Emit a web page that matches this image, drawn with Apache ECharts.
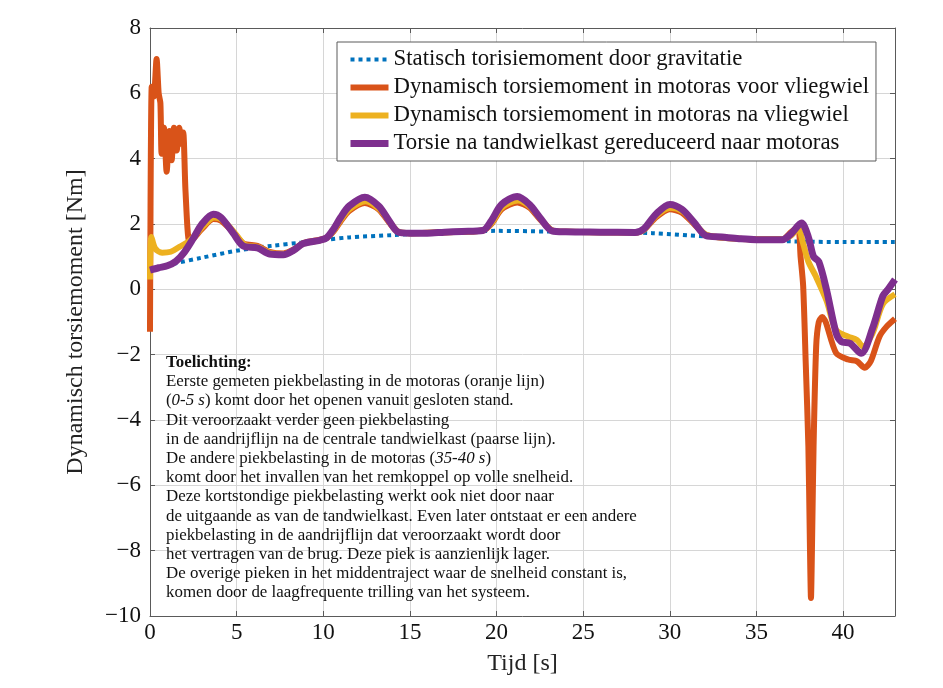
<!DOCTYPE html>
<html>
<head>
<meta charset="utf-8">
<title>Dynamisch torsiemoment</title>
<script src="https://cdn.jsdelivr.net/npm/echarts@6/dist/echarts.min.js"></script>
<style>
  html, body { margin: 0; padding: 0; background: #fff; }
  #chart { width: 943px; height: 688px; }
</style>
</head>
<body>
<div id="chart"></div>
<script>
// legend names, same order as the series
var seriesNames = [
  "Statisch torisiemoment door gravitatie",
  "Dynamisch torsiemoment in motoras voor vliegwiel",
  "Dynamisch torsiemoment in motoras na vliegwiel",
  "Torsie na tandwielkast gereduceerd naar motoras"
];

// statisch moment (blauw, gestippeld)
var staticTime   = [0, 1.5, 3, 5.2, 7, 8.7, 10, 11.5, 14, 17, 20, 23, 26, 29, 32, 34, 37, 40, 43];
var staticTorque = [0.6, 0.8, 0.97, 1.2, 1.33, 1.43, 1.51, 1.59, 1.66, 1.74, 1.79, 1.77, 1.75, 1.72, 1.62, 1.55, 1.47, 1.45, 1.45];

// motoras voor vliegwiel (oranje)
var orangeTime = [0, 0.1, 0.22, 0.38, 0.5, 0.6, 0.67, 0.81, 0.96, 1.12, 1.25, 1.38, 1.54, 1.69, 1.83, 1.92, 2.05, 2.27, 2.5,
  3.0, 3.65, 4.1, 4.8, 5.4, 6.2, 6.9, 7.7, 8.3, 8.85, 9.8, 10.2, 10.6, 11.0, 11.5, 12.4, 13.2, 13.8, 14.3, 15, 17,
  19.2, 19.7, 20.3, 21.2, 21.9, 22.5, 23.2, 24, 28, 28.5, 29.2, 30.0, 30.7, 31.4, 32.1, 34, 36.5, 37.0, 37.4,
  37.55, 37.7, 37.85, 38.0, 38.08, 38.15, 38.22, 38.3, 38.45, 38.6, 38.8, 39.0, 39.6, 40.3, 40.8, 41.25, 41.6, 42.1, 42.5, 43];
var orangeTorque = [-1.3, 6.2, 5.9, 7.05, 6.0, 5.7, 4.15, 4.95, 3.6, 4.85, 3.95, 4.95, 4.25, 4.95, 4.45, 4.8, 3.0, 1.45, 1.55,
  1.85, 2.15, 2.1, 1.75, 1.4, 1.33, 1.15, 1.1, 1.22, 1.42, 1.52, 1.58, 1.78, 2.08, 2.4, 2.64, 2.45, 2.05, 1.76, 1.72, 1.75,
  1.8, 2.0, 2.45, 2.66, 2.5, 2.15, 1.8, 1.76, 1.74, 1.82, 2.2, 2.45, 2.35, 2.0, 1.66, 1.55, 1.53, 1.75, 1.9,
  1.0, 0.1, -2.3, -4.8, -7.5, -9.45, -7.5, -4.8, -1.75, -1.0, -0.85, -1.0, -1.95, -2.15, -2.2, -2.4, -2.2, -1.45, -1.15, -0.9];

// motoras na vliegwiel (geel)
var yellowTime = [0, 0.08, 0.3, 0.7, 1.2, 1.7, 2.2, 2.6, 3.1, 3.7, 4.2, 4.9, 5.5, 6.2, 6.9, 7.7, 8.3, 8.85, 9.8, 10.2,
  10.6, 11.0, 11.5, 12.45, 13.25, 13.85, 14.35, 15, 17, 19.2, 19.7, 20.3, 21.25, 21.95, 22.55, 23.25, 24, 28, 28.5,
  29.2, 30.05, 30.75, 31.45, 32.15, 34, 36.5, 37.0, 37.4, 37.7, 38.0, 38.4, 39.05, 39.6, 40.3, 40.8, 41.15, 41.7, 42.3, 43];
var yellowTorque = [0.3, 1.6, 1.25, 1.12, 1.15, 1.3, 1.45, 1.65, 1.95, 2.2, 2.12, 1.72, 1.35, 1.3, 1.12, 1.08, 1.2, 1.4, 1.5, 1.57,
  1.8, 2.12, 2.45, 2.7, 2.45, 2.05, 1.76, 1.72, 1.75, 1.8, 2.02, 2.5, 2.72, 2.52, 2.15, 1.8, 1.76, 1.74, 1.82,
  2.25, 2.5, 2.38, 2.0, 1.66, 1.55, 1.53, 1.65, 1.85, 1.4, 0.85, 0.43, -0.35, -1.25, -1.45, -1.55, -1.75, -1.35, -0.45, -0.15];

// na tandwielkast (paars)
var purpleTime = [0, 0.5, 1.0, 1.5, 2.0, 2.5, 3.0, 3.65, 4.1, 4.8, 5.4, 6.2, 6.9, 7.7, 8.3, 8.85, 9.8, 10.2, 10.6, 11.0,
  11.5, 12.4, 13.2, 13.8, 14.3, 15, 16, 17, 18, 19.2, 19.7, 20.3, 21.2, 21.9, 22.5, 23.2, 24, 26, 28, 28.5, 29.2,
  30.0, 30.7, 31.4, 32.1, 33, 34, 35, 36.5, 37.0, 37.6, 38.0, 38.3, 38.6, 39.05, 39.6, 39.9, 40.4, 41.05, 41.7, 42.3, 42.6, 43];
var purpleTorque = [0.59, 0.66, 0.72, 0.86, 1.15, 1.56, 2.0, 2.3, 2.2, 1.72, 1.32, 1.27, 1.08, 1.06, 1.2, 1.4, 1.5, 1.58, 1.85, 2.2,
  2.55, 2.82, 2.55, 2.1, 1.76, 1.72, 1.72, 1.75, 1.77, 1.8, 2.1, 2.6, 2.84, 2.6, 2.2, 1.79, 1.76, 1.75, 1.74, 1.85, 2.3,
  2.6, 2.45, 2.05, 1.64, 1.6, 1.55, 1.52, 1.52, 1.7, 2.03, 1.6, 1.0, 0.85, -0.02, -1.34, -1.6, -1.65, -1.96, -1.2, -0.2, 0.0, 0.3];

// x tick labels
var xTicks = [0, 5, 10, 15, 20, 25, 30, 35, 40];

// toelichting
var noteLines = [
  "{b|Toelichting:}",
  "Eerste gemeten piekbelasting in de motoras (oranje lijn)",
  "({i|0-5 s}) komt door het openen vanuit gesloten stand.",
  "Dit veroorzaakt verder geen piekbelasting",
  "in de aandrijflijn na de centrale tandwielkast (paarse lijn).",
  "De andere piekbelasting in de motoras ({i|35-40 s})",
  "komt door het invallen van het remkoppel op volle snelheid.",
  "Deze kortstondige piekbelasting werkt ook niet door naar",
  "de uitgaande as van de tandwielkast. Even later ontstaat er een andere",
  "piekbelasting in de aandrijflijn dat veroorzaakt wordt door",
  "het vertragen van de brug. Deze piek is aanzienlijk lager.",
  "De overige pieken in het middentraject waar de snelheid constant is,",
  "komen door de laagfrequente trilling van het systeem."
];

function zip(ts, vs) {
  var out = [];
  for (var i = 0; i < ts.length; i++) out.push([ts[i], vs[i]]);
  return out;
}

var serif = '"Liberation Serif", "Times New Roman", serif';
var boxColor = '#5a5a5a';
var gridColor = '#d6d6d6';
var noteSize = 16.9;

var chart = echarts.init(document.getElementById('chart'));

chart.setOption({
  animation: false,
  backgroundColor: '#fff',
  grid: { left: 150, right: 48, top: 28, bottom: 72 },
  xAxis: [
    {
      type: 'value', min: 0, max: 43, interval: 5,
      name: 'Tijd [s]', nameLocation: 'middle', nameGap: 36,
      nameTextStyle: { fontFamily: serif, fontSize: 24, color: '#222' },
      axisLine: { show: true, onZero: false, lineStyle: { color: boxColor, width: 1 } },
      axisTick: { show: true, inside: true, length: 5, lineStyle: { color: boxColor } },
      axisLabel: {
        fontFamily: serif, fontSize: 23, color: '#111', margin: 5, showMaxLabel: false,
        formatter: function (v) { return xTicks.indexOf(v) >= 0 ? String(v) : ''; }
      },
      splitLine: { show: true, lineStyle: { color: gridColor, width: 1 } }
    },
    {
      type: 'value', min: 0, max: 43, interval: 5, position: 'top',
      axisLine: { show: true, onZero: false, lineStyle: { color: boxColor, width: 1 } },
      axisTick: { show: true, inside: true, length: 5, lineStyle: { color: boxColor } },
      axisLabel: { show: false },
      splitLine: { show: false }
    }
  ],
  yAxis: [
    {
      type: 'value', min: -10, max: 8, interval: 2,
      name: 'Dynamisch torsiemoment [Nm]', nameLocation: 'middle', nameGap: 62,
      nameTextStyle: { fontFamily: serif, fontSize: 24, color: '#222' },
      axisLine: { show: true, onZero: false, lineStyle: { color: boxColor, width: 1 } },
      axisTick: { show: true, inside: true, length: 5, lineStyle: { color: boxColor } },
      axisLabel: {
        fontFamily: serif, fontSize: 23, color: '#111', margin: 9,
        formatter: function (v) { return String(v).replace('-', '\u2212'); }
      },
      splitLine: { show: true, lineStyle: { color: gridColor, width: 1 } }
    },
    {
      type: 'value', min: -10, max: 8, interval: 2, position: 'right',
      axisLine: { show: true, onZero: false, lineStyle: { color: boxColor, width: 1 } },
      axisTick: { show: true, inside: true, length: 5, lineStyle: { color: boxColor } },
      axisLabel: { show: false },
      splitLine: { show: false }
    }
  ],
  legend: {
    orient: 'vertical',
    left: 337, top: 42,
    padding: [6, 7, 6, 10],
    itemWidth: 38, itemHeight: 14, itemGap: 5,
    backgroundColor: '#fff',
    borderColor: boxColor, borderWidth: 1, borderRadius: 0,
    itemStyle: { opacity: 0 },
    lineStyle: { width: 'inherit', type: 'inherit', cap: 'butt' },
    textStyle: { fontFamily: serif, fontSize: 22.8, lineHeight: 22, color: '#111' },
    data: seriesNames
  },
  series: [
    {
      name: seriesNames[0], type: 'line', xAxisIndex: 0, yAxisIndex: 0,
      data: zip(staticTime, staticTorque), smooth: 0.3,
      symbol: 'none', showSymbol: false,
      lineStyle: { color: '#0072BD', width: 4, type: [4, 4], cap: 'butt' },
      itemStyle: { color: '#0072BD' }
    },
    {
      name: seriesNames[1], type: 'line', xAxisIndex: 0, yAxisIndex: 0,
      data: zip(orangeTime, orangeTorque), smooth: 0.25,
      symbol: 'none', showSymbol: false,
      lineStyle: { color: '#D95319', width: 6, join: 'round' },
      itemStyle: { color: '#D95319' }
    },
    {
      name: seriesNames[2], type: 'line', xAxisIndex: 0, yAxisIndex: 0,
      data: zip(yellowTime, yellowTorque), smooth: 0.3,
      symbol: 'none', showSymbol: false,
      lineStyle: { color: '#EDB120', width: 6, join: 'round' },
      itemStyle: { color: '#EDB120' }
    },
    {
      name: seriesNames[3], type: 'line', xAxisIndex: 0, yAxisIndex: 0,
      data: zip(purpleTime, purpleTorque), smooth: 0.3,
      symbol: 'none', showSymbol: false,
      lineStyle: { color: '#7E2F8E', width: 7, join: 'round' },
      itemStyle: { color: '#7E2F8E' }
    }
  ],
  graphic: [
    {
      type: 'text',
      left: 166, top: 353, z: 10,
      style: {
        text: noteLines.join('\n'),
        fontFamily: serif, fontSize: noteSize, lineHeight: 19.2,
        fill: '#111',
        rich: {
          b: { fontFamily: serif, fontSize: noteSize, fontWeight: 'bold', lineHeight: 19.2, fill: '#111' },
          i: { fontFamily: serif, fontSize: noteSize, fontStyle: 'italic', lineHeight: 19.2, fill: '#111' }
        }
      }
    }
  ]
});
</script>
</body>
</html>
